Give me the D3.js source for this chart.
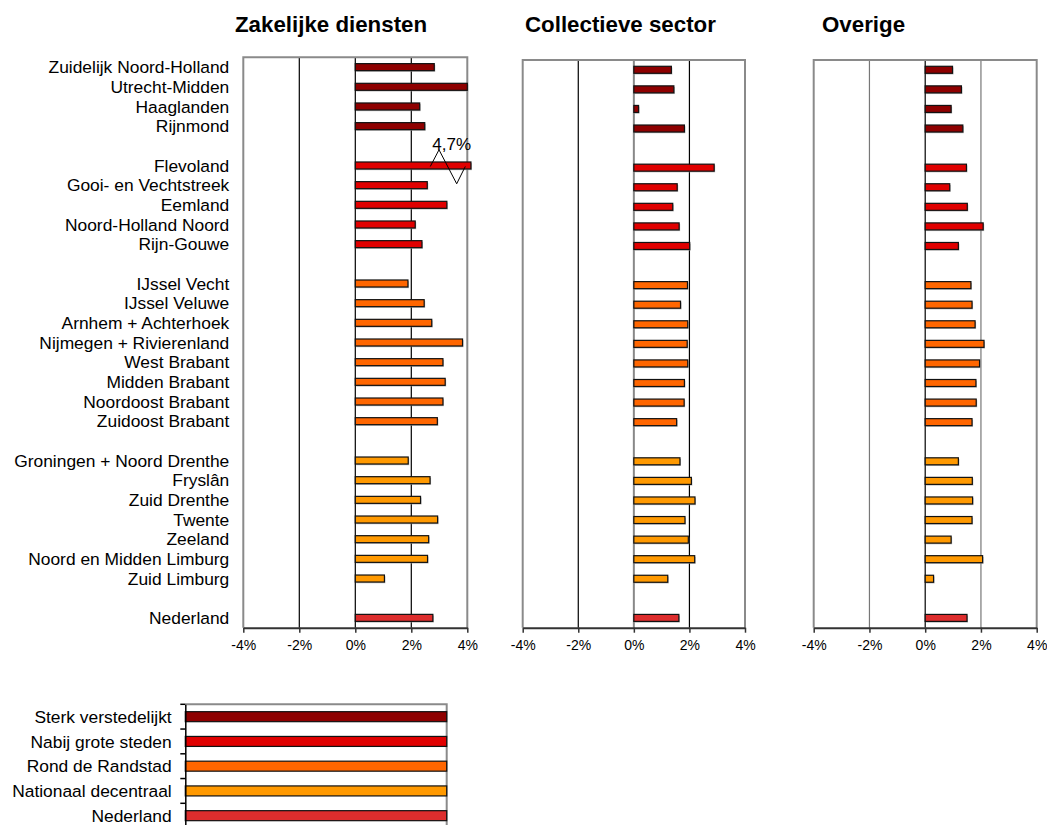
<!DOCTYPE html>
<html><head><meta charset="utf-8">
<script src="https://cdn.jsdelivr.net/npm/d3@7"></script>
<style>
html,body{margin:0;padding:0;background:#fff;}
svg text{font-family:"Liberation Sans",Arial,sans-serif;fill:#000;}
</style></head>
<body><svg id="c" width="1047" height="825"></svg>
<script>
// ---------- DATA ----------
const regions = ["Zuidelijk Noord-Holland","Utrecht-Midden","Haaglanden","Rijnmond",
  "Flevoland","Gooi- en Vechtstreek","Eemland","Noord-Holland Noord","Rijn-Gouwe",
  "IJssel Vecht","IJssel Veluwe","Arnhem + Achterhoek","Nijmegen + Rivierenland","West Brabant","Midden Brabant","Noordoost Brabant","Zuidoost Brabant",
  "Groningen + Noord Drenthe","Fryslân","Zuid Drenthe","Twente","Zeeland","Noord en Midden Limburg","Zuid Limburg",
  "Nederland"];
const regionGroup = [0,0,0,0, 1,1,1,1,1, 2,2,2,2,2,2,2,2, 3,3,3,3,3,3,3, 4];
const groupNames = ["Sterk verstedelijkt","Nabij grote steden","Rond de Randstad","Nationaal decentraal","Nederland"];
const panelTitles = ["Zakelijke diensten","Collectieve sector","Overige"];
const zakelijk   = [2.82,4.00,2.30,2.48, 4.70,2.57,3.27,2.14,2.38, 1.88,2.46,2.73,3.83,3.13,3.21,3.13,2.93, 1.89,2.67,2.33,2.94,2.62,2.58,1.04, 2.77];
const collectief = [1.35,1.44,0.17,1.82, 2.89,1.56,1.40,1.63,2.01, 1.93,1.68,1.94,1.92,1.94,1.82,1.81,1.54, 1.66,2.07,2.20,1.84,1.96,2.19,1.22, 1.62];
const overige    = [0.98,1.30,0.93,1.35, 1.48,0.88,1.51,2.08,1.19, 1.64,1.68,1.79,2.11,1.95,1.82,1.83,1.68, 1.19,1.69,1.70,1.68,0.93,2.06,0.30, 1.50];
const xTicks = [-4,-2,0,2,4];
const tickLabels = ["-4%","-2%","0%","2%","4%"];
const legendValue = 4; // legend bars span the full axis

// ---------- STYLE / LAYOUT ----------
const groupColors = ["#8e0000","#e00000","#ff6600","#ff9900","#dd2d2d"];
const svg = d3.select("#c");
const panels = [
  {values: zakelijk,   x0: 243.3, x1: 467.3, top: 57.3, titleX: 235, grid:{"-2":"#000","0":"#000","2":"#000"}},
  {values: collectief, x0: 522.7, x1: 745.0, top: 60.0, titleX: 525, grid:{"-2":"#000","0":"#888","2":"#000"}},
  {values: overige,    x0: 813.7, x1: 1036.7, top: 60.0, titleX: 822, grid:{"-2":"#777","0":"#000","2":"#777"}}
];
const bottom = 627.7;

// rows with gaps between groups
const rowOf = [];
let r = 0;
regionGroup.forEach((g,i)=>{ if(i>0 && g!==regionGroup[i-1]) r++; rowOf.push(r); r++; });
const nRows = r;

panels.forEach((p,pi)=>{
  const x = d3.scaleLinear().domain([-4,4]).range([p.x0,p.x1]);
  const y = d3.scaleBand().domain(d3.range(nRows)).range([p.top,bottom]).padding(0);
  const g = svg.append("g");
  // title
  svg.append("text").attr("x",p.titleX).attr("y",32).attr("font-weight","bold")
    .attr("font-size",22.3).text(panelTitles[pi]);
  // gridlines
  g.selectAll("line.grid").data([-2,0,2]).join("line")
    .attr("x1",d=>x(d)).attr("x2",d=>x(d)).attr("y1",p.top).attr("y2",bottom)
    .attr("stroke",d=>p.grid[String(d)]).attr("stroke-width",d=>p.grid[String(d)]==="#888"?2:1.2);
  // border
  g.append("path").attr("d",`M${p.x0},${bottom}V${p.top}H${p.x1}V${bottom}`)
    .attr("fill","none").attr("stroke","#8a8a8a").attr("stroke-width",2);
  const clipMax = 4.13;
  const bh = 7;
  // bar shadows
  g.selectAll("rect.sh").data(p.values).join("rect")
    .attr("x",x(0)+1).attr("y",(d,i)=>y(rowOf[i])+y.bandwidth()/2-bh/2+1.2)
    .attr("width",d=>Math.max(0,x(Math.min(d,clipMax))-x(0)))
    .attr("height",bh).attr("fill","#9a9a9a").attr("opacity",0.7);
  // bars
  g.selectAll("rect.bar").data(p.values).join("rect")
    .attr("x",x(0)).attr("y",(d,i)=>y(rowOf[i])+y.bandwidth()/2-bh/2)
    .attr("width",d=>x(Math.min(d,clipMax))-x(0))
    .attr("height",bh).attr("fill",(d,i)=>groupColors[regionGroup[i]])
    .attr("stroke","#111").attr("stroke-width",1.2);
  // bottom axis
  const ax = g.append("g").attr("transform",`translate(0,${bottom})`)
    .call(d3.axisBottom(x).tickValues(xTicks).tickFormat((d,i)=>tickLabels[i]).tickSize(5).tickSizeOuter(0));
  ax.select(".domain").attr("stroke","#333").attr("stroke-width",2);
  ax.selectAll(".tick line").attr("stroke","#333").attr("stroke-width",1.5);
  ax.selectAll(".tick text").attr("font-size",14).attr("font-family","Liberation Sans, Arial, sans-serif").attr("fill","#000").attr("dy","1.05em");
  // break marker for values beyond the axis
  p.values.forEach((v,i)=>{
    if(v>4){
      const cy = y(rowOf[i])+y.bandwidth()/2;
      const xe = x(4);
      g.append("path").attr("d",`M${xe-37},${cy+1}L${xe-28.3},${cy-15.7}L${xe-10.6},${cy+18.3}L${xe-2},${cy+1}`)
        .attr("fill","none").attr("stroke","#000").attr("stroke-width",1);
      g.append("text").attr("x",xe-35).attr("y",cy-15.5).attr("font-size",17)
        .text(d3.format(".1f")(v).replace(".",",")+"%");
    }
  });
  if(pi===0){
    svg.append("g").selectAll("text").data(regions).join("text")
      .attr("x",229.3).attr("y",(d,i)=>y(rowOf[i])+y.bandwidth()/2).attr("dy","0.36em")
      .attr("text-anchor","end").attr("font-size",17.4).text(d=>d);
  }
});

// ---------- LEGEND ----------
const lx = d3.scaleLinear().domain([0,4]).range([185.3,446.7]);
const ly = d3.scaleBand().domain(d3.range(groupNames.length)).range([704.3,704.3+24.75*5]);
const lg = svg.append("g");
lg.append("path").attr("d",`M${lx(0)},${704.3}H${lx(4)}V${830}`).attr("fill","none").attr("stroke","#8a8a8a").attr("stroke-width",2);
lg.selectAll("rect").data(groupNames).join("rect")
  .attr("x",lx(0)).attr("y",(d,i)=>ly(i)+ly.bandwidth()/2-5).attr("width",lx(legendValue)-lx(0)).attr("height",10)
  .attr("fill",(d,i)=>groupColors[i]).attr("stroke","#111").attr("stroke-width",1.2);
const lax = lg.append("g").attr("transform",`translate(${lx(0)},0)`)
  .call(d3.axisLeft(ly).tickSize(0).tickFormat(""));
lax.select(".domain").attr("stroke","#000").attr("stroke-width",1.5);
lg.selectAll("line.lt").data(d3.range(groupNames.length)).join("line")
  .attr("x1",lx(0)-5).attr("x2",lx(0)).attr("y1",d=>ly(d)).attr("y2",d=>ly(d)).attr("stroke","#000").attr("stroke-width",1.5);
lg.selectAll("text.ll").data(groupNames).join("text")
  .attr("x",171.7).attr("y",(d,i)=>ly(i)+ly.bandwidth()/2).attr("dy","0.36em")
  .attr("text-anchor","end").attr("font-size",17.4).text(d=>d);
</script></body></html>
